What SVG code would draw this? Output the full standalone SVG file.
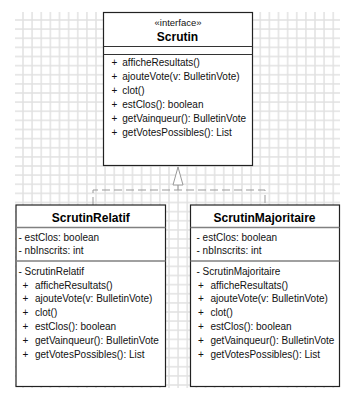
<svg xmlns="http://www.w3.org/2000/svg" width="360" height="397" viewBox="0 0 360 397">
<defs>
<pattern id="grid" patternUnits="userSpaceOnUse" x="23" y="20" width="9.125" height="9.125">
<rect x="0" y="0" width="0.7" height="9.125" fill="#e0e0e0"/>
<rect x="8.425" y="0" width="0.7" height="9.125" fill="#e0e0e0"/>
<rect x="0" y="0" width="9.125" height="0.7" fill="#e0e0e0"/>
<rect x="0" y="8.425" width="9.125" height="0.7" fill="#e0e0e0"/>
</pattern>
<style>
.box{fill:#fff;stroke:#222;stroke-width:1.2}
.sep{stroke:#333;stroke-width:1}
.sep2{stroke:#808080;stroke-width:1.5}
text{font-family:"Liberation Sans",Arial,sans-serif;fill:#111}
.t{font-size:10px}
.title{font-size:12px;font-weight:bold;text-anchor:middle;fill:#000}
.st{font-size:9.5px;text-anchor:middle}
.conn{fill:none;stroke:#999;stroke-width:1;stroke-dasharray:8 4}
.tri{fill:#fff;stroke:#999;stroke-width:1}
</style>
</defs>
<rect x="15" y="12" width="325" height="376" fill="url(#grid)"/>
<g id="connectors">
<path class="conn" d="M93,205 V190 H265 V205"/>
<path d="M178,185 V190" stroke="#999" stroke-width="1" fill="none"/>
<polygon class="tri" points="178,167 173,185 183,185"/>
</g>
<g id="Scrutin">
<rect class="box" x="103.5" y="12.5" width="149" height="153"/>
<line class="sep" x1="103.5" y1="46.5" x2="252.5" y2="46.5"/>
<line class="sep" x1="103.5" y1="54.5" x2="252.5" y2="54.5"/>
<text class="st" x="178" y="26">«interface»</text>
<text class="title" x="177.5" y="40.5">Scrutin</text>
<text class="t" x="111.5" y="66">+</text><text class="t" x="122.3" y="66">afficheResultats()</text>
<text class="t" x="111.5" y="80">+</text><text class="t" x="122.3" y="80">ajouteVote(v: BulletinVote)</text>
<text class="t" x="111.5" y="93.5">+</text><text class="t" x="122.3" y="93.5">clot()</text>
<text class="t" x="111.5" y="107.5">+</text><text class="t" x="122.3" y="107.5">estClos(): boolean</text>
<text class="t" x="111.5" y="121.5">+</text><text class="t" x="122.3" y="121.5">getVainqueur(): BulletinVote</text>
<text class="t" x="111.5" y="135.5">+</text><text class="t" x="122.3" y="135.5">getVotesPossibles(): List</text>
</g>
<g id="ScrutinRelatif">
<rect class="box" x="16" y="205" width="149.5" height="181.5"/>
<line class="sep2" x1="16" y1="227.5" x2="165.5" y2="227.5"/>
<line class="sep2" x1="16" y1="261" x2="165.5" y2="261"/>
<text class="title" x="90.8" y="221.5">ScrutinRelatif</text>
<text class="t" x="18.5" y="240.5">- estClos: boolean</text>
<text class="t" x="18.5" y="254">- nbInscrits: int</text>
<text class="t" x="18.5" y="274.5">- ScrutinRelatif</text>
<text class="t" x="22.5" y="288.5">+</text><text class="t" x="35" y="288.5">afficheResultats()</text>
<text class="t" x="22.5" y="302">+</text><text class="t" x="35" y="302">ajouteVote(v: BulletinVote)</text>
<text class="t" x="22.5" y="316">+</text><text class="t" x="35" y="316">clot()</text>
<text class="t" x="22.5" y="330">+</text><text class="t" x="35" y="330">estClos(): boolean</text>
<text class="t" x="22.5" y="343.5">+</text><text class="t" x="35" y="343.5">getVainqueur(): BulletinVote</text>
<text class="t" x="22.5" y="357.5">+</text><text class="t" x="35" y="357.5">getVotesPossibles(): List</text>
</g>
<g id="ScrutinMajoritaire">
<rect class="box" x="190.5" y="205" width="149" height="181.5"/>
<line class="sep2" x1="190.5" y1="227.5" x2="339.5" y2="227.5"/>
<line class="sep2" x1="190.5" y1="261" x2="339.5" y2="261"/>
<text class="title" x="264.5" y="221.5">ScrutinMajoritaire</text>
<text class="t" x="196.5" y="240.5">- estClos: boolean</text>
<text class="t" x="196.5" y="254">- nbInscrits: int</text>
<text class="t" x="196.5" y="274.5">- ScrutinMajoritaire</text>
<text class="t" x="198" y="288.5">+</text><text class="t" x="210.5" y="288.5">afficheResultats()</text>
<text class="t" x="198" y="302">+</text><text class="t" x="210.5" y="302">ajouteVote(v: BulletinVote)</text>
<text class="t" x="198" y="316">+</text><text class="t" x="210.5" y="316">clot()</text>
<text class="t" x="198" y="330">+</text><text class="t" x="210.5" y="330">estClos(): boolean</text>
<text class="t" x="198" y="343.5">+</text><text class="t" x="210.5" y="343.5">getVainqueur(): BulletinVote</text>
<text class="t" x="198" y="357.5">+</text><text class="t" x="210.5" y="357.5">getVotesPossibles(): List</text>
</g>
</svg>
